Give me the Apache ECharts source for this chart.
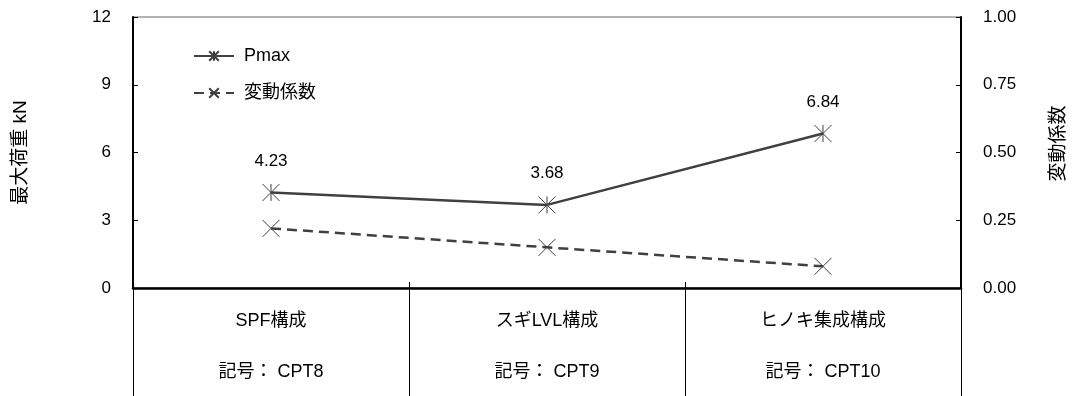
<!DOCTYPE html>
<html>
<head>
<meta charset="utf-8">
<script src="https://cdn.jsdelivr.net/npm/echarts@6/dist/echarts.min.js"></script>
<style>
  html, body { margin: 0; padding: 0; background: #fff; }
  #chart { width: 1076px; height: 396px; }
</style>
</head>
<body>
<div id="chart"></div>
<script>
// data
var categories = ['SPF構成', 'スギLVL構成', 'ヒノキ集成構成']
var codes = ['記号： CPT8', '記号： CPT9', '記号： CPT10']
var pmax = [4.23, 3.68, 6.84]
var cv = [0.22, 0.15, 0.08]
var leftTicks = [0, 3, 6, 9, 12]
var rightTicks = [0, 0.25, 0.5, 0.75, 1.0]

var FONT = "'Liberation Sans', 'Noto Sans CJK JP', sans-serif"
var INK = '#404040'
// marker shapes: asterisk (x + vertical) and plain x
var STAR = 'path://M0,0L16,16M16,0L0,16M8,0L8,16'
var CROSS = 'path://M0,0L16,16M16,0L0,16'

var chart = echarts.init(document.getElementById('chart'))

var option = {
  animation: false,
  textStyle: { fontFamily: FONT, color: '#000' },
  grid: {
    left: 133, right: 113, top: 17, bottom: 108,
    show: true, borderColor: '#666', borderWidth: 1
  },
  legend: {
    orient: 'vertical',
    left: 188, top: 42,
    itemWidth: 40, itemHeight: 12, itemGap: 19,
    textStyle: { fontSize: 18, color: '#000', fontFamily: FONT, padding: [0, 0, 0, 5] },
    data: ['Pmax', '変動係数']
  },
  xAxis: [
    {
      type: 'category',
      data: categories,
      boundaryGap: true,
      axisLine: { lineStyle: { color: '#000', width: 2.5 } },
      axisTick: { show: true, interval: 0, length: 110, lineStyle: { color: '#000', width: 1 } },
      axisLabel: {
        interval: 0, margin: 8,
        formatter: function (v, i) { return '{a|' + v + '}\n{b|' + codes[i] + '}' },
        rich: {
          a: { fontSize: 18, lineHeight: 51, color: '#000', fontFamily: FONT },
          b: { fontSize: 18, lineHeight: 51, color: '#000', fontFamily: FONT }
        }
      }
    },
    {
      // short dividers poking up above the axis
      type: 'category',
      data: categories,
      position: 'bottom',
      boundaryGap: true,
      axisLine: { show: false },
      axisTick: { show: true, inside: true, interval: 0, length: 6, lineStyle: { color: '#000', width: 1 } },
      axisLabel: { show: false }
    }
  ],
  yAxis: [
    {
      type: 'value',
      min: leftTicks[0], max: leftTicks[leftTicks.length - 1], interval: 3,
      name: '最大荷重 kN',
      nameLocation: 'middle', nameRotate: 90, nameGap: 103,
      nameTextStyle: { fontSize: 19, color: '#000', fontFamily: FONT },
      axisLine: { show: true, lineStyle: { color: '#000', width: 2 } },
      axisTick: { show: true, inside: true, length: 5, lineStyle: { color: '#000' } },
      axisLabel: { margin: 22, fontSize: 17, color: '#000' },
      splitLine: { show: false }
    },
    {
      type: 'value',
      min: rightTicks[0], max: rightTicks[rightTicks.length - 1], interval: 0.25,
      name: '変動係数',
      nameLocation: 'middle', nameRotate: 90, nameGap: 88,
      nameTextStyle: { fontSize: 19, color: '#000', fontFamily: FONT, padding: [0, 0, 0, 18] },
      axisLine: { show: true, lineStyle: { color: '#000', width: 2 } },
      axisTick: { show: true, inside: true, length: 5, lineStyle: { color: '#000' } },
      axisLabel: { margin: 22, fontSize: 17, color: '#000', formatter: function (v) { return v.toFixed(2) } },
      splitLine: { show: false }
    }
  ],
  series: [
    {
      name: 'Pmax',
      type: 'line',
      yAxisIndex: 0,
      data: pmax,
      symbol: STAR,
      symbolSize: 17,
      lineStyle: { color: INK, width: 2.5 },
      itemStyle: { color: INK, borderColor: INK, borderWidth: 1 },
      label: {
        show: true, position: 'top', distance: 14,
        fontSize: 17, color: '#000', fontFamily: FONT,
        formatter: function (p) { return p.value.toFixed(2) }
      }
    },
    {
      name: '変動係数',
      type: 'line',
      yAxisIndex: 1,
      data: cv,
      symbol: CROSS,
      symbolSize: 17,
      lineStyle: { color: INK, width: 2.5, type: [10, 6] },
      itemStyle: { color: INK, borderColor: INK, borderWidth: 1 }
    }
  ]
}

chart.setOption(option)
</script>
</body>
</html>
